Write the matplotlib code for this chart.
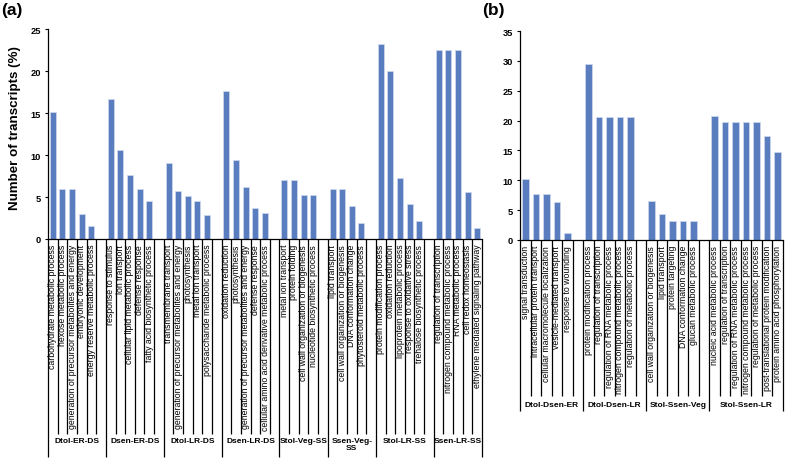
import numpy as np
import matplotlib.pyplot as plt

plt.rcParams['font.family'] = ['Liberation Sans', 'DejaVu Sans']

# ---- panel (a) data ----
a_groups = ['Dtol-ER-DS', 'Dsen-ER-DS', 'Dtol-LR-DS', 'Dsen-LR-DS',
            'Stol-Veg-SS', 'Ssen-Veg-\nSS', 'Stol-LR-SS', 'Ssen-LR-SS']
a_terms = [
    ['carbohydrate metabolic process', 'hexose metabolic process',
     'generation of precursor metabolites and energy', 'embryonic development',
     'energy reserve metabolic process'],
    ['response to stimulus', 'ion transport', 'cellular lipid metabolic process',
     'defense response', 'fatty acid biosynthetic process'],
    ['transmembrane transport', 'generation of precursor metabolites and energy',
     'photosynthesis', 'metal ion transport', 'polysaccharide metabolic process'],
    ['oxidation reduction', 'photosynthesis',
     'generation of precursor metabolites and energy', 'defense response',
     'cellular amino acid derivative metabolic process'],
    ['metal ion transport', 'protein folding',
     'cell wall organization or biogenesis', 'nucleotide biosynthetic process'],
    ['lipid transport', 'cell wall organization or biogenesis',
     'DNA conformation change', 'phytosteroid metabolic process'],
    ['protein modification process', 'oxidation reduction',
     'lipoprotein metabolic process', 'response to oxidative stress',
     'trehalose biosynthetic process'],
    ['regulation of transcription', 'nitrogen compound metabolic process',
     'RNA metabolic process', 'cell redox homeostasis',
     'ethylene mediated signaling pathway'],
]
a_values = [
    [15.1, 6.0, 6.0, 3.0, 1.5],
    [16.7, 10.6, 7.6, 6.0, 4.5],
    [9.1, 5.7, 5.1, 4.5, 2.8],
    [17.6, 9.4, 6.2, 3.7, 3.1],
    [7.0, 7.0, 5.2, 5.2],
    [5.9, 5.9, 3.9, 1.9],
    [23.2, 20.0, 7.3, 4.2, 2.1],
    [22.5, 22.5, 22.5, 5.6, 1.3],
]

# ---- panel (b) data ----
b_groups = ['Dtol-Dsen-ER', 'Dtol-Dsen-LR', 'Stol-Ssen-Veg', 'Stol-Ssen-LR']
b_terms = [
    ['signal transduction', 'intracellular protein transport',
     'cellular macromolecule localization', 'vesicle-mediated transport',
     'response to wounding'],
    ['protein modification process', 'regulation of transcription',
     'regulation of RNA metabolic process', 'nitrogen compound metabolic process',
     'regulation of metabolic process'],
    ['cell wall organization or biogenesis', 'lipid transport',
     'protein targeting', 'DNA conformation change', 'glucan metabolic process'],
    ['nucleic acid metabolic process', 'regulation of transcription',
     'regulation of RNA metabolic process', 'nitrogen compound metabolic process',
     'regulation of metabolic process', 'post-translational protein modification',
     'protein amino acid phosphorylation'],
]
b_values = [
    [10.2, 7.7, 7.7, 6.4, 1.2],
    [29.4, 20.6, 20.6, 20.6, 20.6],
    [6.5, 4.3, 3.2, 3.2, 3.2],
    [20.8, 19.7, 19.7, 19.7, 19.7, 17.5, 14.8],
]

BAR = '#5A7DBF'
EDGE = '#D0DBEF'


def draw_panel(ax, groups, terms, values, ymax, short_end, tall_end, glabel_y):
    pos, labels, vals = [], [], []
    short_lines, tall_lines = [], [-0.5]
    slot = 0
    for gi, (t, v) in enumerate(zip(terms, values)):
        last = gi == len(groups) - 1
        start = slot
        for k in range(len(v)):
            pos.append(slot)
            labels.append(t[k])
            vals.append(v[k])
            if not (last and k == len(v) - 1):
                short_lines.append(slot + 0.5)
            slot += 1
        if not last:
            slot += 1  # empty spacer category
        tall_lines.append(slot - 0.5)
        center = (start - 0.5 + slot - 0.5) / 2
        ax.text(center, glabel_y, groups[gi], transform=ax.get_xaxis_transform(),
                ha='center', va='top', fontsize=6, fontweight='bold',
                linespacing=1.0)
    short_lines = [s for s in short_lines if s not in tall_lines]

    ax.bar(pos, vals, width=0.62, color=BAR, edgecolor=EDGE, linewidth=0.5, zorder=2)
    ax.set_xlim(-0.5, slot - 0.5)
    ax.set_ylim(0, ymax)
    ax.set_yticks(np.arange(0, ymax + 1, 5))
    ax.set_xticks(pos, labels, rotation=90, fontsize=6.3, va='top', ha='center')
    ax.tick_params(axis='x', length=0, pad=3.5)
    ax.tick_params(axis='y', length=2.5, width=0.8, pad=2.5, labelsize=6.7)
    for lab in ax.get_yticklabels():
        lab.set_fontweight('bold')
    for sp in ['top', 'right']:
        ax.spines[sp].set_visible(False)
    for sp in ['left', 'bottom']:
        ax.spines[sp].set_linewidth(0.9)
    tr = ax.get_xaxis_transform()
    ax.vlines(short_lines, short_end, 0, transform=tr, colors='black',
              linewidth=0.9, clip_on=False)
    ax.vlines(tall_lines, tall_end, 0, transform=tr, colors='black',
              linewidth=0.9, clip_on=False)


W, H = 787, 460
fig = plt.figure(figsize=(W / 100, H / 100), dpi=100)

ax_a = fig.add_axes([48 / W, 1 - 240 / H, 434 / W, 210 / H])
draw_panel(ax_a, a_groups, a_terms, a_values, 25,
           (240 - 435) / 210, (240 - 458) / 210, (240 - 438) / 210)

ax_b = fig.add_axes([520 / W, 1 - 241 / H, 263 / W, 209 / H])
draw_panel(ax_b, b_groups, b_terms, b_values, 35,
           (241 - 397) / 209, (241 - 412) / 209, (241 - 402) / 209)

fig.text(15 / W, 1 - 128 / H, 'Number of transcripts (%)', rotation=90,
         ha='center', va='center', fontsize=9.6, fontweight='bold')
fig.text(1 / W, 1 - 10 / H, '(a)', ha='left', va='center', fontsize=12.5,
         fontweight='bold')
fig.text(482 / W, 1 - 10 / H, '(b)', ha='left', va='center', fontsize=12.5,
         fontweight='bold')

fig.savefig('out.png', dpi=100)
